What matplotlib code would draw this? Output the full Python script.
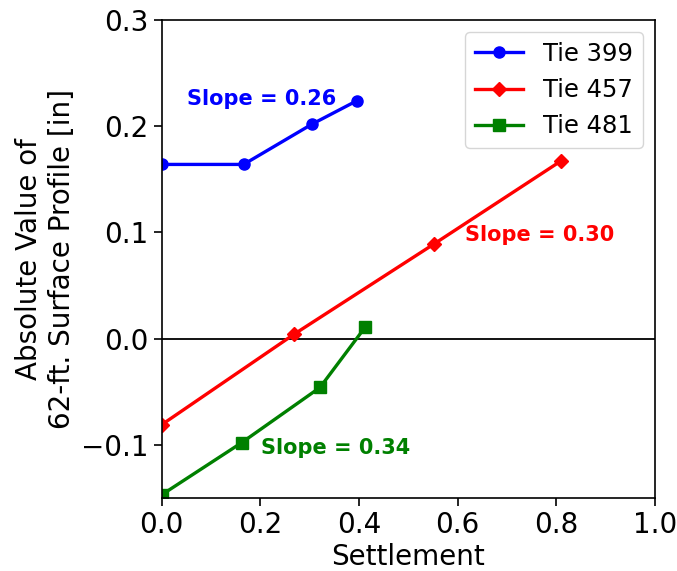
import matplotlib.pyplot as plt

# settlement vs. surface profile for each tie
tie399_x = [0.0, 0.166, 0.305, 0.396]
tie399_y = [0.164, 0.164, 0.202, 0.224]
tie457_x = [0.0, 0.268, 0.552, 0.809]
tie457_y = [-0.081, 0.004, 0.089, 0.167]
tie481_x = [0.0, 0.162, 0.321, 0.413]
tie481_y = [-0.147, -0.098, -0.046, 0.011]

fig = plt.figure(figsize=(6.77, 5.71), dpi=100)
ax = fig.add_axes([0.239, 0.128, 0.728, 0.837])

ax.axhline(0, color='black', lw=1.3)
ax.plot(tie399_x, tie399_y, '-o', color='blue', lw=2.4, ms=8, label='Tie 399')
ax.plot(tie457_x, tie457_y, '-D', color='red', lw=2.4, ms=7.5, label='Tie 457')
ax.plot(tie481_x, tie481_y, '-s', color='green', lw=2.4, ms=8, label='Tie 481')

ax.text(0.052, 0.226, 'Slope = 0.26', color='blue', fontsize=15, fontweight='bold', va='center')
ax.text(0.615, 0.098, 'Slope = 0.30', color='red', fontsize=15, fontweight='bold', va='center')
ax.text(0.202, -0.103, 'Slope = 0.34', color='green', fontsize=15, fontweight='bold', va='center')

ax.set_xlim(0, 1.0)
ax.set_ylim(-0.15, 0.3)
ax.set_xticks([0, 0.2, 0.4, 0.6, 0.8, 1.0])
ax.set_yticks([-0.1, 0.0, 0.1, 0.2, 0.3])
ax.tick_params(labelsize=20, length=6, width=1.2)
for s in ax.spines.values():
    s.set_linewidth(1.2)
ax.set_xlabel('Settlement', fontsize=20, labelpad=3)
ax.set_ylabel('Absolute Value of\n62-ft. Surface Profile [in]', fontsize=20)
ax.legend(loc='upper right', fontsize=17.5)

fig.savefig('out.png')
